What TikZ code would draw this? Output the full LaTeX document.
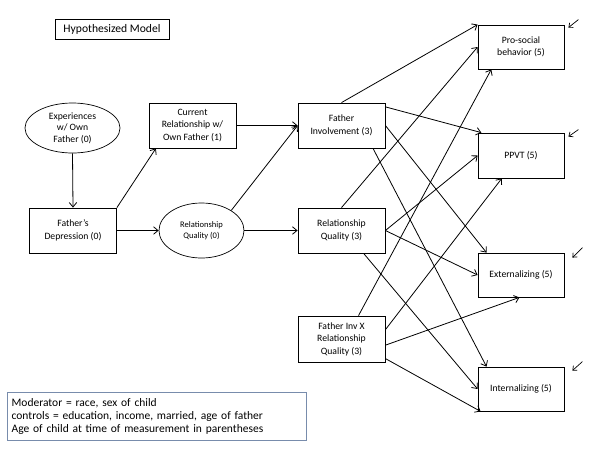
\documentclass[tikz,border=0pt]{standalone}
\usepackage{fontspec}
\setmainfont{Carlito}
\usepackage{xcolor}
\usepackage{tikz}
\usetikzlibrary{shapes,arrows.meta,positioning}

\definecolor{legendblue}{RGB}{120,140,172}

\begin{document}
\begin{tikzpicture}[
  x=1pt, y=-1pt,
  box/.style={rectangle, draw, line width=0.8pt, minimum width=87pt, minimum height=45pt, inner sep=1pt, align=center, font=\fontsize{9.7}{12.5}\selectfont},
  oval/.style={ellipse, draw, line width=0.7pt, inner sep=0pt, align=center},
  arrow/.style={-{Straight Barb[length=4.5pt,width=7.5pt]}, line width=0.8pt},
  errarrow/.style={-{Straight Barb[length=3.5pt,width=6pt]}, line width=0.7pt}
]
\useasboundingbox (0,0) rectangle (599,448);

% title and legend
\node[rectangle, draw, line width=0.7pt, minimum width=114pt, minimum height=20pt, font=\fontsize{11.6}{13}\selectfont] (title) at (112,29) {Hypothesized Model};
\node[rectangle, draw=legendblue, line width=1.3pt, anchor=north west, minimum width=299pt, minimum height=48pt, text width=291pt, align=left, inner sep=4pt, font=\fontsize{11.5}{12.8}\selectfont] (legend) at (7,392)
  {Moderator = race, sex of child\\controls = education, income, married, age of father\\Age of child at time of measurement in parentheses};

% predictors
\node[oval, minimum width=95pt, minimum height=50pt, font=\fontsize{9.7}{11.5}\selectfont] (exp) at (72.5,128) {Experiences\\w/ Own\\Father (0)};
\node[box] (dep) at (73,230.5) {Father's\\Depression (0)};
\node[box] (cur) at (192.5,125.5) {Current\\Relationship w/\\Own Father (1)};
\node[oval, minimum width=85pt, minimum height=55pt, font=\fontsize{8.5}{11}\selectfont] (rq0) at (201.5,230.5) {Relationship\\Quality (0)};

% mediators
\node[box] (fi) at (341.5,125.5) {Father\\Involvement (3)};
\node[box] (rq3) at (341.5,230.5) {Relationship\\Quality (3)};
\node[box, minimum height=46pt] (fix) at (341.5,339) {Father Inv X\\Relationship\\Quality (3)};

% outcomes
\node[box, minimum width=86pt, minimum height=44pt] (pro) at (521,47) {Pro-social\\behavior (5)};
\node[box, minimum width=86pt, minimum height=45pt] (ppvt) at (521,155.5) {PPVT (5)};
\node[box, minimum width=86pt, minimum height=44pt] (ext) at (521,275) {Externalizing (5)};
\node[box, minimum width=86pt, minimum height=44pt] (int) at (521,389) {Internalizing (5)};

% left part
\draw[arrow] (exp.south) -- (dep.north);
\draw[arrow] (dep.north east) -- (cur.212);
\draw[arrow] (dep.east) -- (rq0.west);
\draw[arrow] (cur.east) -- (fi.west);
\draw[arrow] (rq0.34) -- (fi.west);
\draw[arrow] (rq0.east) -- (rq3.west);

% to outcomes
\draw[arrow] (fi.north) -- (pro.north west);
\draw[arrow] (fi.23) -- (ppvt.150);
\draw[arrow] (fi.east) -- (ext.147);
\draw[arrow] (fi.-36) -- (int.147);
\draw[arrow] (rq3.north) -- (pro.west);
\draw[arrow] (rq3.east) -- (ppvt.west);
\draw[arrow] (rq3.east) -- (ext.west);
\draw[arrow] (rq3.-46) -- (int.west);
\draw[arrow] (fix.54) -- (pro.217);
\draw[arrow] (fix.12) -- (ppvt.230);
\draw[arrow] (fix.-8) -- (ext.266);
\draw[arrow] (fix.-24) -- (int.209);

% error terms
\draw[errarrow] ([shift={(14,-5)}]pro.north east) -- ++(-10,8);
\draw[errarrow] ([shift={(14,-3)}]ppvt.north east) -- ++(-10,7);
\draw[errarrow] ([shift={(18,-5)}]ext.north east) -- ++(-10,10);
\draw[errarrow] ([shift={(18,-5)}]int.north east) -- ++(-10,9);
\end{tikzpicture}
\end{document}
